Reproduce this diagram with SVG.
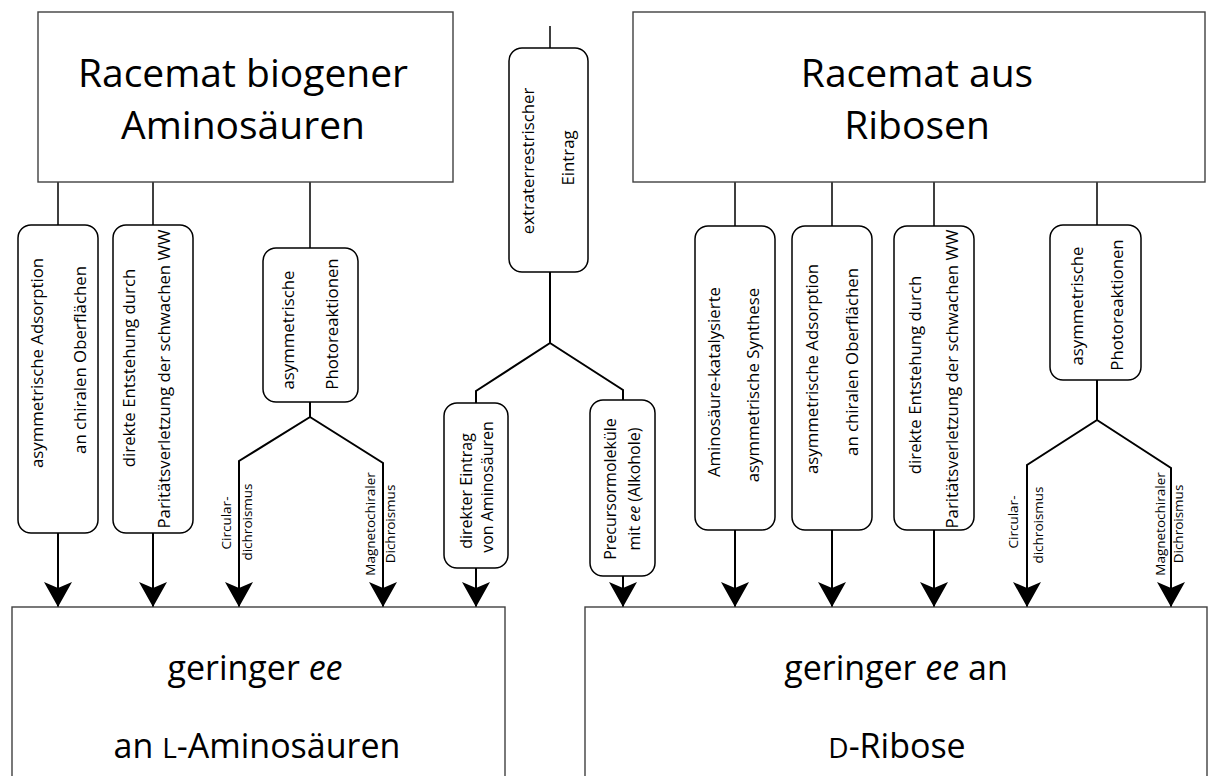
<svg xmlns="http://www.w3.org/2000/svg" width="1210" height="776" viewBox="0 0 1210 776">
<style>
text{font-family:"Open Sans","Liberation Sans",sans-serif;fill:#000}
.big{fill:#fff;stroke:#404040;stroke-width:1.4}
.rb{fill:#fff;stroke:#000;stroke-width:1.5}
.t{font-size:16.8px;text-anchor:middle}
.s{font-size:16px;text-anchor:middle}
.a{font-size:13.5px;text-anchor:middle}
.title{font-size:39px;text-anchor:middle}
.bt{font-size:34px;text-anchor:middle}
.c{fill:none;stroke:#000;stroke-width:1.5}
.ar{fill:none;stroke:#000;stroke-width:2;marker-end:url(#ah)}
.br{fill:none;stroke:#000;stroke-width:2}
</style>
<defs>
<marker id="ah" markerUnits="userSpaceOnUse" orient="auto" refX="0" refY="0" markerWidth="30" markerHeight="30" overflow="visible">
<path d="M0,0 L-25,-14 L-19,0 L-25,14 Z" fill="#000"/>
</marker>
</defs>

<g id="connectors">
<path class="c" d="M58,182 V225 M153,182 V225 M310,182 V248"/>
<path class="c" d="M735,182 V226 M832,182 V226 M934,182 V226 M1097,182 V225"/>
<path class="c" d="M550,26 V48"/>
<path class="br" d="M550,272 V343 L476,391 V403"/>
<path class="br" d="M550,343 L623,390 V400"/>
<path class="ar" d="M58,533 V607"/>
<path class="ar" d="M153,533 V607"/>
<path class="ar" d="M310,402 V417 L239,461 V607"/>
<path class="ar" d="M310,417 L383,463 V607"/>
<path class="ar" d="M476,568 V607"/>
<path class="ar" d="M623,576 V607"/>
<path class="ar" d="M735,530 V607"/>
<path class="ar" d="M832,530 V607"/>
<path class="ar" d="M934,530 V607"/>
<path class="ar" d="M1097,380 V420 L1027,465 V607"/>
<path class="ar" d="M1097,420 L1171,468 V607"/>
<g class="a">
<text transform="translate(227,523) rotate(-90)" y="3.5">Circular-</text>
<text transform="translate(248,522) rotate(-90)" y="3.5">dichroismus</text>
<text transform="translate(371,524) rotate(-90)" y="3.5">Magnetochiraler</text>
<text transform="translate(391,524) rotate(-90)" y="3.5">Dichroismus</text>
<text transform="translate(1014,522) rotate(-90)" y="3.5">Circular-</text>
<text transform="translate(1039,525) rotate(-90)" y="3.5">dichroismus</text>
<text transform="translate(1161,524) rotate(-90)" y="3.5">Magnetochiraler</text>
<text transform="translate(1179,524) rotate(-90)" y="3.5">Dichroismus</text>
</g>
</g>

<g id="racemat-aminosaeuren">
<rect class="big" x="38" y="12" width="415" height="170"/>
<text class="title" x="243" y="87">Racemat biogener</text>
<text class="title" x="243" y="139">Aminosäuren</text>
</g>
<g id="racemat-ribosen">
<rect class="big" x="633" y="12" width="572" height="170"/>
<text class="title" x="917" y="87">Racemat aus</text>
<text class="title" x="917" y="139">Ribosen</text>
</g>

<g id="l-adsorption">
<rect class="rb" x="18" y="225" width="80" height="308" rx="13"/>
<text class="t" transform="translate(38,363) rotate(-90)" y="4.5">asymmetrische Adsorption</text>
<text class="t" transform="translate(81,360) rotate(-90)" y="4.5">an chiralen Oberflächen</text>
</g>
<g id="l-paritaet">
<rect class="rb" x="113" y="225" width="80" height="308" rx="13"/>
<text class="t" transform="translate(130,368) rotate(-90)" y="4.5">direkte Entstehung durch</text>
<text class="t" transform="translate(165,379) rotate(-90)" y="4.5">Paritätsverletzung der schwachen WW</text>
</g>
<g id="l-photo">
<rect class="rb" x="263" y="248" width="95" height="154" rx="13"/>
<text class="t" transform="translate(289,330) rotate(-90)" y="4.5">asymmetrische</text>
<text class="t" transform="translate(333,324) rotate(-90)" y="4.5">Photoreaktionen</text>
</g>

<g id="extraterrestrisch">
<rect class="rb" x="509" y="48" width="79" height="224" rx="13"/>
<text class="t" transform="translate(529,161) rotate(-90)" y="4.5">extraterrestrischer</text>
<text class="t" transform="translate(569,158) rotate(-90)" y="4.5">Eintrag</text>
</g>
<g id="direkter-eintrag">
<rect class="rb" x="444" y="403" width="64" height="165" rx="13"/>
<text class="s" transform="translate(467,491) rotate(-90)" y="4.5">direkter Eintrag</text>
<text class="s" transform="translate(488,487) rotate(-90)" y="4.5">von Aminosäuren</text>
</g>
<g id="precursor">
<rect class="rb" x="590" y="400" width="65" height="176" rx="13"/>
<text class="s" transform="translate(611,489) rotate(-90)" y="4.5">Precursormoleküle</text>
<text class="s" transform="translate(635,489) rotate(-90)" y="4.5">mit <tspan font-style="italic">ee</tspan> (Alkohole)</text>
</g>

<g id="r-aminokat">
<rect class="rb" x="695" y="226" width="80" height="304" rx="13"/>
<text class="t" transform="translate(715,382) rotate(-90)" y="4.5">Aminosäure-katalysierte</text>
<text class="t" transform="translate(754,385) rotate(-90)" y="4.5">asymmetrische Synthese</text>
</g>
<g id="r-adsorption">
<rect class="rb" x="792" y="226" width="80" height="304" rx="13"/>
<text class="t" transform="translate(813,369) rotate(-90)" y="4.5">asymmetrische Adsorption</text>
<text class="t" transform="translate(853,362) rotate(-90)" y="4.5">an chiralen Oberflächen</text>
</g>
<g id="r-paritaet">
<rect class="rb" x="894" y="226" width="80" height="304" rx="13"/>
<text class="t" transform="translate(916,375) rotate(-90)" y="4.5">direkte Entstehung durch</text>
<text class="t" transform="translate(953,379) rotate(-90)" y="4.5">Paritätsverletzung der schwachen WW</text>
</g>
<g id="r-photo">
<rect class="rb" x="1050" y="225" width="91" height="155" rx="13"/>
<text class="t" transform="translate(1078,306) rotate(-90)" y="4.5">asymmetrische</text>
<text class="t" transform="translate(1118,305) rotate(-90)" y="4.5">Photoreaktionen</text>
</g>

<g id="ee-aminosaeuren">
<rect class="big" x="12" y="607" width="493" height="190"/>
<text class="bt" x="255" y="680">geringer <tspan font-style="italic">ee</tspan></text>
<text class="bt" x="257" y="758">an <tspan font-size="28px">L</tspan>-Aminosäuren</text>
</g>
<g id="ee-ribose">
<rect class="big" x="585" y="607" width="622" height="190"/>
<text class="bt" x="896" y="680">geringer <tspan font-style="italic">ee</tspan> an</text>
<text class="bt" x="897" y="758"><tspan font-size="28px">D</tspan>-Ribose</text>
</g>
</svg>
